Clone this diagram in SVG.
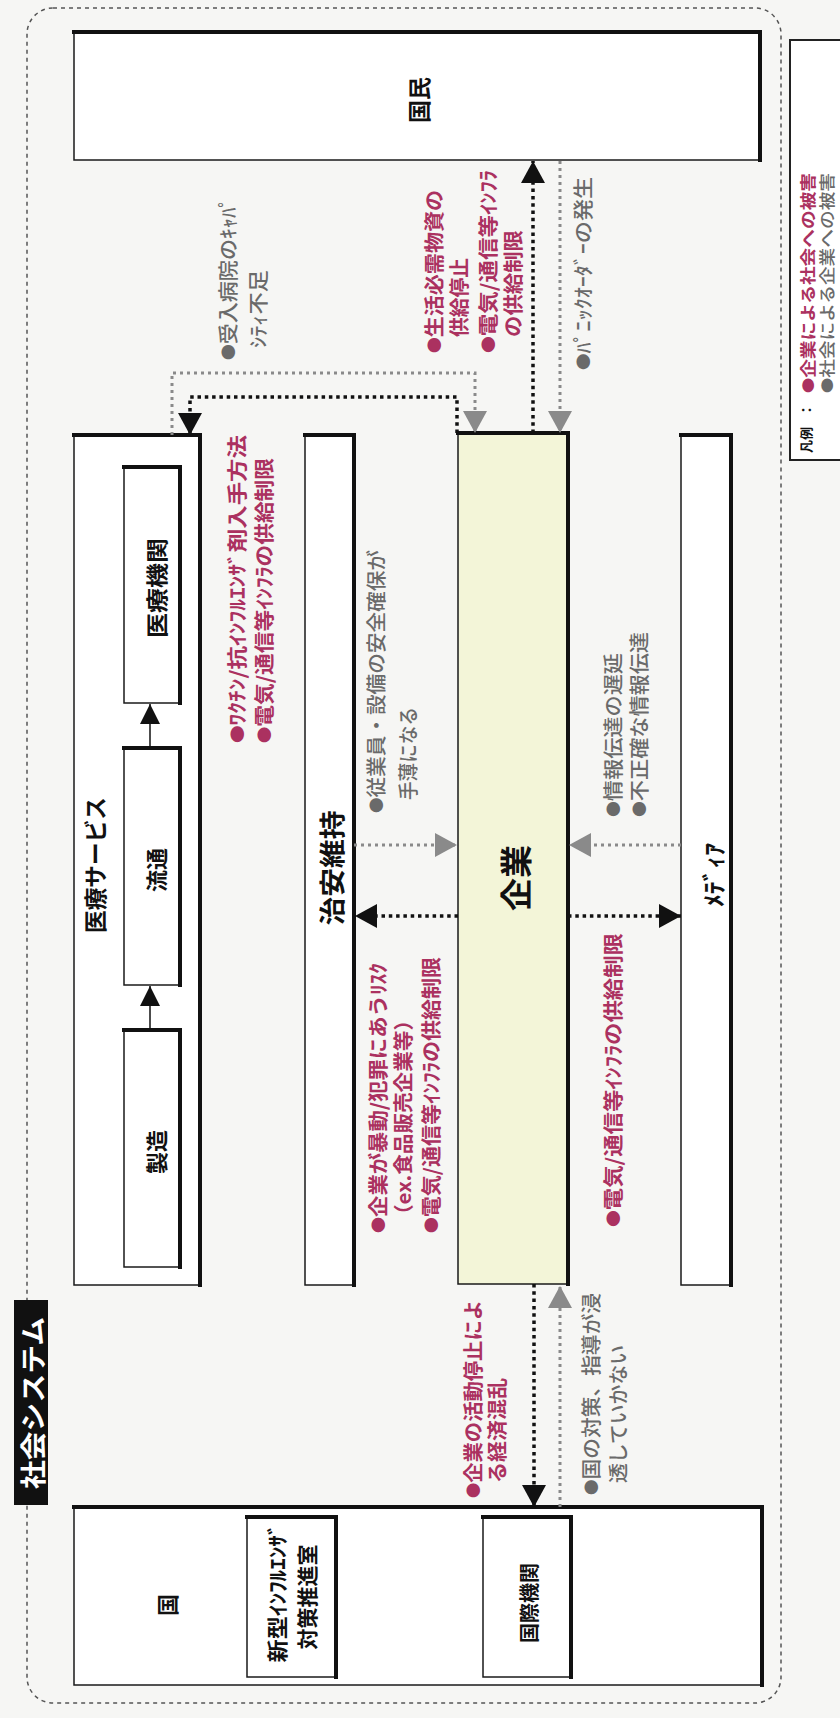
<svg xmlns="http://www.w3.org/2000/svg" width="840" height="1718" viewBox="0 0 840 1718">
<style>
text{font-family:"Noto Sans CJK JP","Noto Sans CJK SC",sans-serif;dominant-baseline:central}
.box{fill:#fff;stroke:#1a1a1a;stroke-width:1.5}
.edge{fill:none;stroke:#111;stroke-width:4;stroke-linecap:square}
.lbl{font-weight:700;fill:#111;text-anchor:middle}
.red{font-weight:700;fill:#ab3160;font-size:20px}
.gry{font-weight:500;fill:#6a6a6a;font-size:20px}
.b{font-size:15px}
.cb{fill:none;stroke:#111;stroke-width:3.5;stroke-dasharray:3.5 3.8}
.cg{fill:none;stroke:#8a8a8a;stroke-width:3;stroke-dasharray:3 4}
.cs{fill:none;stroke:#111;stroke-width:1.5}
</style>
<defs>
<marker id="ab" viewBox="0 0 22 24" refX="22" refY="12" markerWidth="22" markerHeight="24" markerUnits="userSpaceOnUse" orient="auto"><path d="M0,0 L22,12 L0,24 z" fill="#111"/></marker>
<marker id="ag" viewBox="0 0 22 24" refX="22" refY="12" markerWidth="22" markerHeight="24" markerUnits="userSpaceOnUse" orient="auto"><path d="M0,0 L22,12 L0,24 z" fill="#8a8a8a"/></marker>
<marker id="as" viewBox="0 0 20 20" refX="20" refY="10" markerWidth="20" markerHeight="20" markerUnits="userSpaceOnUse" orient="auto"><path d="M0,0 L20,10 L0,20 z" fill="#111"/></marker>
</defs>
<rect x="0" y="0" width="840" height="1718" fill="#f6f6f4"/>
<rect x="27" y="8" width="754" height="1695" rx="26" fill="none" stroke="#555" stroke-width="1.5" stroke-dasharray="4 4"/>

<g id="shakai-system">
<rect x="14" y="1300" width="34" height="205" fill="#111"/>
<text class="lbl" style="fill:#fff" font-size="26" textLength="172" lengthAdjust="spacingAndGlyphs" transform="translate(31,1403) rotate(-90)">社会システム</text>
</g>

<g id="legend">
<rect x="790" y="40" width="70" height="420" fill="#fff" stroke="#222" stroke-width="2"/>
<text class="lbl" font-size="13" transform="translate(805,440) rotate(-90)">凡例</text>
<text class="lbl" font-size="13" transform="translate(805,410) rotate(-90)">：</text>
<text class="red" style="font-size:16px" textLength="220" lengthAdjust="spacingAndGlyphs" transform="translate(807,393) rotate(-90)"><tspan class="b" style="font-size:13px">●</tspan>企業による社会への被害</text>
<text class="gry" style="font-size:16px" textLength="220" lengthAdjust="spacingAndGlyphs" transform="translate(826,393) rotate(-90)"><tspan class="b" style="font-size:13px">●</tspan>社会による企業への被害</text>
</g>

<g id="kokumin">
<rect class="box" x="74" y="32" width="686" height="128"/>
<polyline class="edge" points="74,32 760,32 760,160"/>
<text class="lbl" font-size="23" transform="translate(418,100) rotate(-90)">国民</text>
</g>

<g id="iryo-service">
<rect class="box" x="74" y="435" width="126" height="850"/>
<polyline class="edge" points="74,435 200,435 200,1285"/>
<text class="lbl" font-size="23" textLength="136" lengthAdjust="spacingAndGlyphs" transform="translate(94,865) rotate(-90)">医療サービス</text>
</g>
<g id="iryo-kikan">
<rect class="box" x="124" y="467" width="56" height="236"/>
<polyline class="edge" points="124,467 180,467 180,703"/>
<text class="lbl" font-size="22" textLength="100" lengthAdjust="spacingAndGlyphs" transform="translate(155,588) rotate(-90)">医療機関</text>
</g>
<g id="ryutsu">
<rect class="box" x="124" y="748" width="56" height="237"/>
<polyline class="edge" points="124,748 180,748 180,985"/>
<text class="lbl" font-size="22" transform="translate(155,870) rotate(-90)">流通</text>
</g>
<g id="seizo">
<rect class="box" x="124" y="1030" width="56" height="237"/>
<polyline class="edge" points="124,1030 180,1030 180,1267"/>
<text class="lbl" font-size="22" transform="translate(155,1152) rotate(-90)">製造</text>
</g>

<g id="chian">
<rect class="box" x="305" y="435" width="49" height="850"/>
<polyline class="edge" points="305,435 354,435 354,1285"/>
<text class="lbl" font-size="26" textLength="115" lengthAdjust="spacingAndGlyphs" transform="translate(330,868) rotate(-90)">治安維持</text>
</g>

<g id="kigyo">
<rect class="box" x="458" y="433" width="110" height="851" style="fill:#f3f5d8"/>
<polyline class="edge" points="458,433 568,433 568,1284"/>
<text class="lbl" font-size="32" textLength="66" lengthAdjust="spacingAndGlyphs" transform="translate(514,878) rotate(-90)">企業</text>
</g>

<g id="media">
<rect class="box" x="681" y="435" width="50" height="850"/>
<polyline class="edge" points="681,435 731,435 731,1285"/>
<text class="lbl" font-size="24" textLength="64" lengthAdjust="spacingAndGlyphs" transform="translate(712,875) rotate(-90)">ﾒﾃﾞｨｱ</text>
</g>

<g id="kuni">
<rect class="box" x="74" y="1507" width="688" height="178"/>
<polyline class="edge" points="74,1507 762,1507 762,1685"/>
<text class="lbl" font-size="22" transform="translate(166,1605) rotate(-90)">国</text>
</g>
<g id="taisaku-shitsu">
<rect class="box" x="247" y="1517" width="89" height="160"/>
<polyline class="edge" points="247,1517 336,1517 336,1677"/>
<text class="lbl" font-size="21" textLength="139" lengthAdjust="spacingAndGlyphs" transform="translate(276,1593) rotate(-90)">新型ｲﾝﾌﾙｴﾝｻﾞ</text>
<text class="lbl" font-size="21" textLength="105" lengthAdjust="spacingAndGlyphs" transform="translate(306,1597) rotate(-90)">対策推進室</text>
</g>
<g id="kokusai-kikan">
<rect class="box" x="483" y="1517" width="88" height="160"/>
<polyline class="edge" points="483,1517 571,1517 571,1677"/>
<text class="lbl" font-size="20" textLength="80" lengthAdjust="spacingAndGlyphs" transform="translate(528,1603) rotate(-90)">国際機関</text>
</g>

<g id="connectors">
<path class="cg" d="M172,435 V373 H475 V433" marker-end="url(#ag)"/>
<path class="cb" d="M457,433 V397 H190 V435" marker-end="url(#ab)"/>
<path class="cb" d="M533,433 V161" marker-end="url(#ab)"/>
<path class="cg" d="M560,161 V433" marker-end="url(#ag)"/>
<path class="cb" d="M458,916 H355" marker-end="url(#ab)"/>
<path class="cb" d="M568,916 H681" marker-end="url(#ab)"/>
<path class="cg" d="M354,845 H457" marker-end="url(#ag)"/>
<path class="cg" d="M681,845 H569" marker-end="url(#ag)"/>
<path class="cb" d="M534,1284 V1507" marker-end="url(#ab)"/>
<path class="cg" d="M560,1507 V1286" marker-end="url(#ag)"/>
<path class="cs" d="M150,1030 V986" marker-end="url(#as)"/>
<path class="cs" d="M150,748 V704" marker-end="url(#as)"/>
</g>

<g id="annotations">
<text class="gry" textLength="163" lengthAdjust="spacingAndGlyphs" transform="translate(227,360) rotate(-90)"><tspan class="b">●</tspan>受入病院のｷｬﾊﾟ</text>
<text class="gry" textLength="78" lengthAdjust="spacingAndGlyphs" transform="translate(257,348) rotate(-90)">ｼﾃｨ不足</text>

<text class="red" textLength="308" lengthAdjust="spacingAndGlyphs" transform="translate(236,743) rotate(-90)"><tspan class="b">●</tspan>ﾜｸﾁﾝ/抗ｲﾝﾌﾙｴﾝｻﾞ剤入手方法</text>
<text class="red" textLength="285" lengthAdjust="spacingAndGlyphs" transform="translate(263,743) rotate(-90)"><tspan class="b">●</tspan>電気/通信等ｲﾝﾌﾗの供給制限</text>

<text class="red" textLength="163" lengthAdjust="spacingAndGlyphs" transform="translate(433,353) rotate(-90)"><tspan class="b">●</tspan>生活必需物資の</text>
<text class="red" textLength="79" lengthAdjust="spacingAndGlyphs" transform="translate(458,337) rotate(-90)">供給停止</text>
<text class="red" textLength="183" lengthAdjust="spacingAndGlyphs" transform="translate(487,353) rotate(-90)"><tspan class="b">●</tspan>電気/通信等ｲﾝﾌﾗ</text>
<text class="red" textLength="107" lengthAdjust="spacingAndGlyphs" transform="translate(512,337) rotate(-90)">の供給制限</text>

<text class="gry" textLength="193" lengthAdjust="spacingAndGlyphs" transform="translate(582,370) rotate(-90)"><tspan class="b">●</tspan>ﾊﾟﾆｯｸｵｰﾀﾞｰの発生</text>

<text class="gry" textLength="263" lengthAdjust="spacingAndGlyphs" transform="translate(375,813) rotate(-90)"><tspan class="b">●</tspan>従業員・設備の安全確保が</text>
<text class="gry" textLength="93" lengthAdjust="spacingAndGlyphs" transform="translate(407,800) rotate(-90)">手薄になる</text>

<text class="gry" textLength="164" lengthAdjust="spacingAndGlyphs" transform="translate(612,817) rotate(-90)"><tspan class="b">●</tspan>情報伝達の遅延</text>
<text class="gry" textLength="185" lengthAdjust="spacingAndGlyphs" transform="translate(638,817) rotate(-90)"><tspan class="b">●</tspan>不正確な情報伝達</text>

<text class="red" textLength="270" lengthAdjust="spacingAndGlyphs" transform="translate(377,1233) rotate(-90)"><tspan class="b">●</tspan>企業が暴動/犯罪にあうﾘｽｸ</text>
<text class="red" textLength="215" lengthAdjust="spacingAndGlyphs" transform="translate(402,1225) rotate(-90)">（ex.食品販売企業等）</text>
<text class="red" textLength="276" lengthAdjust="spacingAndGlyphs" transform="translate(430,1233) rotate(-90)"><tspan class="b">●</tspan>電気/通信等ｲﾝﾌﾗの供給制限</text>

<text class="red" textLength="294" lengthAdjust="spacingAndGlyphs" transform="translate(612,1227) rotate(-90)"><tspan class="b">●</tspan>電気/通信等ｲﾝﾌﾗの供給制限</text>

<text class="red" textLength="198" lengthAdjust="spacingAndGlyphs" transform="translate(472,1498) rotate(-90)"><tspan class="b">●</tspan>企業の活動停止によ</text>
<text class="red" textLength="105" lengthAdjust="spacingAndGlyphs" transform="translate(496,1483) rotate(-90)">る経済混乱</text>

<text class="gry" textLength="202" lengthAdjust="spacingAndGlyphs" transform="translate(590,1495) rotate(-90)"><tspan class="b">●</tspan>国の対策、指導が浸</text>
<text class="gry" textLength="138" lengthAdjust="spacingAndGlyphs" transform="translate(617,1483) rotate(-90)">透していかない</text>
</g>
</svg>
